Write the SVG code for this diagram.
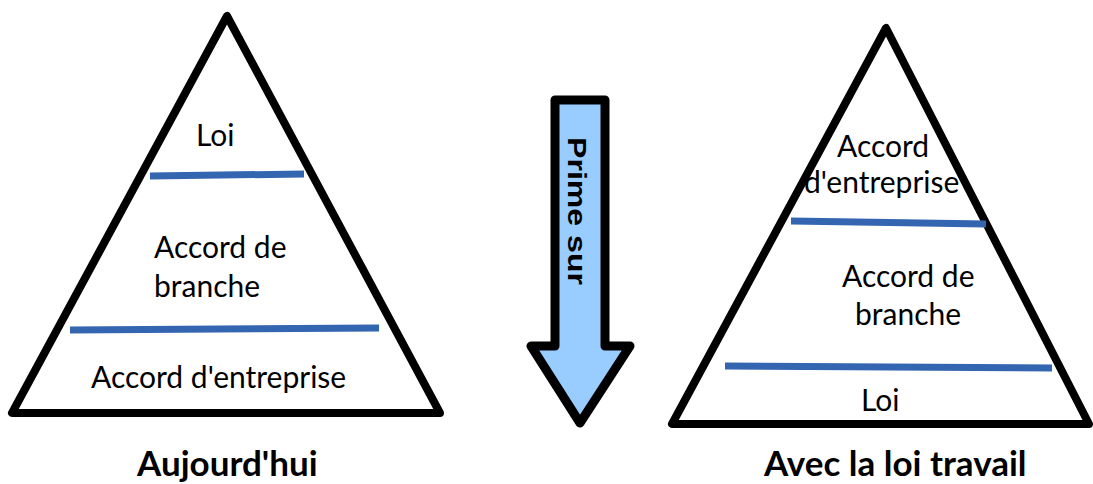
<svg xmlns="http://www.w3.org/2000/svg" width="1093" height="484" viewBox="0 0 1093 484">
<style>
.tri{fill:#fff;stroke:#000;stroke-width:8;stroke-linejoin:round}
.sep{stroke:#3465b0;stroke-width:7;fill:none}
.t{font-family:Lato,"Open Sans",sans-serif;font-size:30px;fill:#000}
.h{font-family:Lato,"Open Sans",sans-serif;font-size:35px;font-weight:bold;fill:#000}
.arr{fill:#99ccff;stroke:#000;stroke-width:9;stroke-linejoin:round}
.p{font-family:"Liberation Sans",Arial,sans-serif;font-size:25px;font-weight:bold;fill:#000}
</style>
<g id="pyramid-left">
<polygon class="tri" points="227,16 12,413 440,413"/>
<line class="sep" x1="150" y1="176" x2="304" y2="174"/>
<line class="sep" x1="70" y1="330" x2="379" y2="328"/>
<text class="t" x="196" y="146">Loi</text>
<text class="t" x="154" y="258">Accord de</text>
<text class="t" x="154" y="297">branche</text>
<text class="t" x="91" y="388">Accord d'entreprise</text>
<text class="h" x="137" y="476">Aujourd'hui</text>
</g>
<g id="arrow">
<path class="arr" d="M555,100 L605,100 L605,346 L630,346 L580,423 L531,346 L555,346 Z"/>
<text class="p" transform="translate(568,137) rotate(90)" textLength="148" lengthAdjust="spacingAndGlyphs">Prime sur</text>
</g>
<g id="pyramid-right">
<polygon class="tri" points="886,28 672,424 1089,424"/>
<line class="sep" x1="791" y1="221" x2="986" y2="224"/>
<line class="sep" x1="725" y1="366" x2="1052" y2="368"/>
<text class="t" x="837" y="157">Accord</text>
<text class="t" x="804" y="193">d'entreprise</text>
<text class="t" x="842" y="287">Accord de</text>
<text class="t" x="855" y="325">branche</text>
<text class="t" x="861" y="411">Loi</text>
<text class="h" x="764" y="476">Avec la loi travail</text>
</g>
<g id="connectors"/>
</svg>
